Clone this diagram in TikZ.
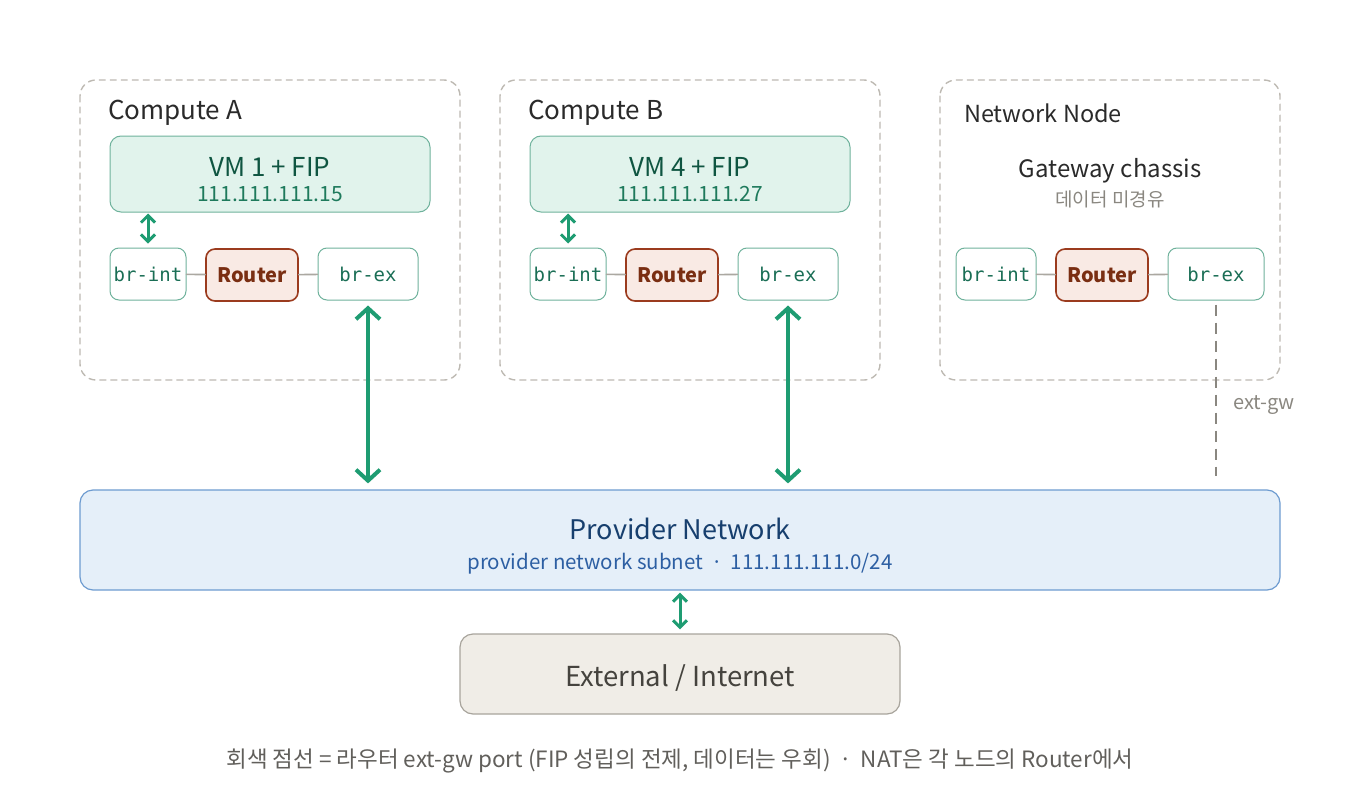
\documentclass[tikz,border=0pt]{standalone}
\usepackage{fontspec}
\setmainfont{Noto Sans CJK KR}
\setmonofont{DejaVu Sans Mono}
\usetikzlibrary{arrows.meta,positioning}

\definecolor{framegray}{HTML}{BDB9B2}
\definecolor{vmfill}{HTML}{E1F3EC}
\definecolor{vmline}{HTML}{6FB29C}
\definecolor{vmtext}{HTML}{0F5541}
\definecolor{iptext}{HTML}{1E7A5C}
\definecolor{brtext}{HTML}{1A6E55}
\definecolor{rtfill}{HTML}{F9EAE4}
\definecolor{rtline}{HTML}{9B3B1E}
\definecolor{rttext}{HTML}{7A2E12}
\definecolor{linkgray}{HTML}{ABA8A1}
\definecolor{arrgreen}{HTML}{1E9C72}
\definecolor{pvfill}{HTML}{E5EFF9}
\definecolor{pvline}{HTML}{6D9BD0}
\definecolor{pvtitle}{HTML}{173F6E}
\definecolor{pvsub}{HTML}{2D5FA3}
\definecolor{exfill}{HTML}{F0EDE7}
\definecolor{exline}{HTML}{A8A49C}
\definecolor{extext}{HTML}{45433E}
\definecolor{gwgray}{HTML}{8A8780}
\definecolor{titletext}{HTML}{2A2A2A}

\newcommand{\fsz}[1]{\fontsize{#1}{#1}\selectfont}

\begin{document}
\begin{tikzpicture}[x=1pt,y=-1pt,
  line cap=round,
  line join=round,
  frame/.style={draw=framegray,line width=1.4pt,dash pattern=on 6pt off 5pt,rounded corners=16pt},
  vmbox/.style={draw=vmline,fill=vmfill,line width=1pt,rounded corners=11pt,
    minimum width=320pt,minimum height=76pt},
  brbox/.style={draw=vmline,fill=white,line width=1pt,rounded corners=9pt,
    minimum height=52pt,text=brtext,font=\ttfamily\fsz{19}},
  rtbox/.style={draw=rtline,fill=rtfill,line width=1.6pt,rounded corners=9pt,
    minimum width=92pt,minimum height=52pt,text=rttext,font=\bfseries\fsz{20}},
  link/.style={draw=linkgray,line width=1.6pt},
  garrow/.style={draw=arrgreen,line width=4pt,
    {Straight Barb[length=11pt,width=24pt]}-{Straight Barb[length=11pt,width=24pt]}},
  sarrow/.style={draw=arrgreen,line width=3pt,
    {Straight Barb[length=7pt,width=14pt]}-{Straight Barb[length=7pt,width=14pt]}},
  every node/.style={inner sep=0pt}]

  \useasboundingbox (0,0) rectangle (1360,800);

  % 枠（点線）
  \draw[frame] (80,80) rectangle (460,380);
  \draw[frame] (500,80) rectangle (880,380);
  \draw[frame] (940,80) rectangle (1280,380);

  \node[anchor=west,text=titletext,font=\fsz{26}] (ttlA) at (108,113) {Compute A};
  \node[anchor=west,text=titletext,font=\fsz{26}] (ttlB) at (528,113) {Compute B};
  \node[anchor=west,text=titletext,font=\fsz{23.5}] (ttlN) at (964,113) {Network Node};

  % Compute A
  \node[vmbox] (vmA) at (270,174) {};
  \node[text=vmtext,font=\fsz{26}] (vmAname) at (270,167) {VM 1 + FIP};
  \node[text=iptext,font=\fsz{21}] (vmAip) at (270,194) {111.111.111.15};
  \node[brbox,minimum width=76pt] (brintA) at (148,274) {br-int};
  \node[rtbox] (rtA) at (252,275) {Router};
  \node[brbox,minimum width=100pt] (brexA) at (368,274) {br-ex};

  % Compute B
  \node[vmbox] (vmB) at (690,174) {};
  \node[text=vmtext,font=\fsz{26}] (vmBname) at (690,167) {VM 4 + FIP};
  \node[text=iptext,font=\fsz{21}] (vmBip) at (690,194) {111.111.111.27};
  \node[brbox,minimum width=76pt] (brintB) at (568,274) {br-int};
  \node[rtbox] (rtB) at (672,275) {Router};
  \node[brbox,minimum width=100pt] (brexB) at (788,274) {br-ex};

  % Network Node
  \node[text=titletext,font=\fsz{24}] (gwname) at (1110,171) {Gateway chassis};
  \node[text=gwgray,font=\fsz{19}] (gwnote) at (1110,199) {데이터 미경유};
  \node[brbox,minimum width=80pt] (brintN) at (996,274) {br-int};
  \node[rtbox] (rtN) at (1102,275) {Router};
  \node[brbox,minimum width=96pt] (brexN) at (1216,274) {br-ex};

  % Provider / External
  \node[draw=pvline,fill=pvfill,line width=1.2pt,rounded corners=13pt,
    minimum width=1200pt,minimum height=100pt] (prov) at (680,540) {};
  \node[text=pvtitle,font=\fsz{27}] (provname) at (680,529) {Provider Network};
  \node[text=pvsub,font=\fsz{20.5}] (provsub) at (680,564)
    {provider network subnet \,·\, 111.111.111.0/24};
  \node[draw=exline,fill=exfill,line width=1.2pt,rounded corners=13pt,
    minimum width=440pt,minimum height=80pt] (ext) at (680,674) {};
  \node[text=extext,font=\fsz{27.5}] (extname) at (680,678) {External / Internet};

  % 連結線
  \draw[link] (brintA) -- (rtA) -- (brexA);
  \draw[link] (brintB) -- (rtB) -- (brexB);
  \draw[link] (brintN) -- (rtN) -- (brexN);

  % 矢印
  \draw[sarrow] ([yshift=-1pt]vmA.south -| brintA.north) -- ([yshift=4pt]brintA.north);
  \draw[sarrow] ([yshift=-1pt]vmB.south -| brintB.north) -- ([yshift=4pt]brintB.north);
  \draw[garrow] ([yshift=-5pt]brexA.south) -- ([yshift=6pt]brexA.south |- prov.north);
  \draw[garrow] ([yshift=-5pt]brexB.south) -- ([yshift=6pt]brexB.south |- prov.north);
  \draw[sarrow] ([yshift=-2pt]prov.south -| ext.north) -- ([yshift=4pt]ext.north);

  % ext-gw（点線）
  \coordinate (gwEnd) at (1216,476);
  \draw[draw=gwgray,line width=2.4pt,line cap=butt,dash pattern=on 11pt off 7pt]
    ([yshift=-4pt]brexN.south) -- (gwEnd);
  \node[anchor=west,text=gwgray,font=\fsz{20}] (gwlabel) at (1233,405) {ext-gw};

  % 注記
  \node[text=extext!85,font=\fsz{22.5}] (caption) at (680,761)
    {회색 점선 = 라우터 ext-gw port (FIP 성립의 전제, 데이터는 우회) \,·\, NAT은 각 노드의 Router에서};

\end{tikzpicture}
\end{document}
